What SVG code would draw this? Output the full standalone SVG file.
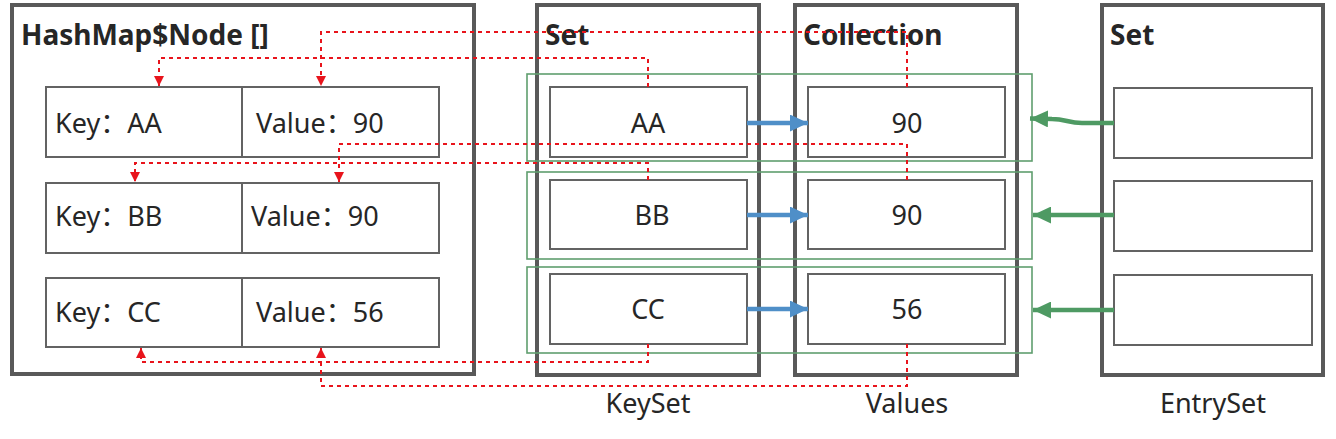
<svg xmlns="http://www.w3.org/2000/svg" width="1336" height="439" viewBox="0 0 1336 439">
<defs>
<style>
.outer{fill:none;stroke:#595959;stroke-width:4}
.cell{fill:#fff;stroke:#636363;stroke-width:2}
.grp{fill:none;stroke:#5f9e6e;stroke-width:1.6}
.t{font-family:"Noto Sans","Noto Sans CJK SC",sans-serif;font-size:27px;fill:#262626}
.c{text-anchor:middle}
.title{font-family:"Noto Sans","Noto Sans CJK SC",sans-serif;font-size:28px;font-weight:bold;fill:#262626}
.red{fill:none;stroke:#e8141c;stroke-width:2;stroke-dasharray:4 4}
.blue{fill:none;stroke:#4f8fc8;stroke-width:4.5}
.green{fill:none;stroke:#4e9a63;stroke-width:4.5}
</style>
<marker id="ra" markerUnits="userSpaceOnUse" markerWidth="10" markerHeight="10" refX="8" refY="4" orient="auto" viewBox="0 0 8 8">
<path d="M0,0 L8,4 L0,8 Z" fill="#e8141c"/>
</marker>
<marker id="ba" markerUnits="userSpaceOnUse" markerWidth="18" markerHeight="17" refX="17" refY="8" orient="auto" viewBox="0 0 17 16">
<path d="M0,0 L17,8 L0,16 Z" fill="#4f8fc8"/>
</marker>
<marker id="ga" markerUnits="userSpaceOnUse" markerWidth="18" markerHeight="17" refX="17" refY="8" orient="auto" viewBox="0 0 17 16">
<path d="M0,0 L17,8 L0,16 Z" fill="#4e9a63"/>
</marker>
</defs>
<rect width="1336" height="439" fill="#fff"/>

<g id="hashmap">
<rect class="outer" x="12" y="5" width="462" height="369"/>
<text class="title" x="21" y="45">HashMap$Node []</text>
</g>
<g id="node-aa">
<rect class="cell" x="46" y="87" width="196" height="70"/>
<rect class="cell" x="242" y="87" width="197" height="70"/>
<text class="t" x="55" y="133">Key：AA</text>
<text class="t" x="256" y="133">Value：90</text>
</g>
<g id="node-bb">
<rect class="cell" x="46" y="183" width="196" height="70"/>
<rect class="cell" x="242" y="183" width="197" height="70"/>
<text class="t" x="55" y="226">Key：BB</text>
<text class="t" x="251" y="226">Value：90</text>
</g>
<g id="node-cc">
<rect class="cell" x="46" y="278" width="196" height="69"/>
<rect class="cell" x="242" y="278" width="197" height="69"/>
<text class="t" x="55" y="322">Key：CC</text>
<text class="t" x="256" y="322">Value：56</text>
</g>

<g id="keyset">
<rect class="outer" x="537" y="5" width="222" height="370"/>
<text class="title" x="545" y="45">Set</text>
<rect class="cell" x="550" y="87" width="197" height="70"/>
<text class="t c" x="648" y="133">AA</text>
<rect class="cell" x="550" y="180" width="197" height="69"/>
<text class="t c" x="652" y="225">BB</text>
<rect class="cell" x="550" y="274" width="197" height="70"/>
<text class="t c" x="648" y="319">CC</text>
<text class="t c" x="648" y="413">KeySet</text>
</g>

<g id="values">
<rect class="outer" x="795" y="5" width="222" height="370"/>
<text class="title" x="803" y="45">Collection</text>
<rect class="cell" x="808" y="87" width="197" height="70"/>
<text class="t c" x="907" y="133">90</text>
<rect class="cell" x="808" y="180" width="197" height="69"/>
<text class="t c" x="907" y="225">90</text>
<rect class="cell" x="808" y="274" width="197" height="70"/>
<text class="t c" x="907" y="319">56</text>
<text class="t c" x="907" y="413">Values</text>
</g>

<g id="entryset">
<rect class="outer" x="1102" y="5" width="221" height="370"/>
<text class="title" x="1110" y="45">Set</text>
<rect class="cell" x="1114" y="88" width="198" height="70"/>
<rect class="cell" x="1114" y="181" width="198" height="70"/>
<rect class="cell" x="1114" y="275" width="198" height="70"/>
<text class="t c" x="1213" y="413">EntrySet</text>
</g>

<g id="entries">
<rect class="grp" x="527" y="74" width="505" height="87"/>
<rect class="grp" x="527" y="172" width="505" height="87"/>
<rect class="grp" x="527" y="267" width="505" height="86"/>
</g>

<g id="connectors">
<path class="red" d="M648,87 V58 H159 V86" marker-end="url(#ra)"/>
<path class="red" d="M907,87 V32 H321 V86" marker-end="url(#ra)"/>
<path class="red" d="M648,180 V163 H135 V182" marker-end="url(#ra)"/>
<path class="red" d="M907,180 V144 H339 V182" marker-end="url(#ra)"/>
<path class="red" d="M648,344 V362 H141 V348" marker-end="url(#ra)"/>
<path class="red" d="M907,344 V386 H321 V348" marker-end="url(#ra)"/>
<path class="blue" d="M747,123 H808" marker-end="url(#ba)"/>
<path class="blue" d="M747,215 H808" marker-end="url(#ba)"/>
<path class="blue" d="M747,309 H808" marker-end="url(#ba)"/>
<path class="green" d="M1114,123 L1082,123 C1068,123 1066,119 1052,119 L1030,118.5" marker-end="url(#ga)"/>
<path class="green" d="M1114,215 H1033" marker-end="url(#ga)"/>
<path class="green" d="M1114,310 H1033" marker-end="url(#ga)"/>
</g>
</svg>
